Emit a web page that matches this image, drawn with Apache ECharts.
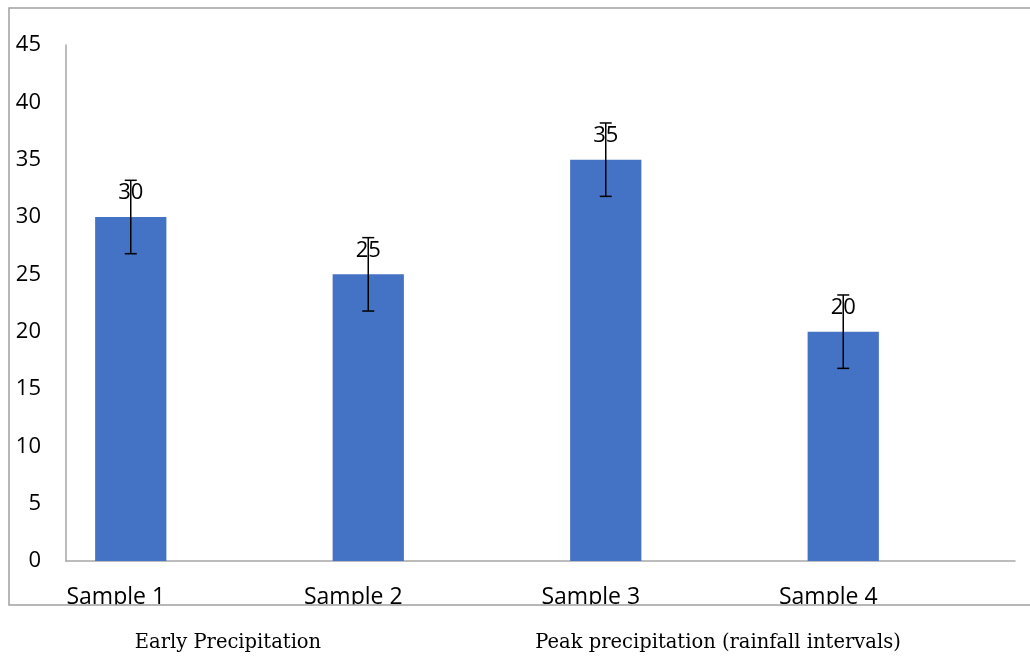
<!DOCTYPE html>
<html>
<head>
<meta charset="utf-8">
<script src="https://cdn.jsdelivr.net/npm/echarts@6/dist/echarts.min.js"></script>
<style>
  html, body { margin: 0; padding: 0; background: #fff; }
  #chart { width: 1030px; height: 657px; }
</style>
</head>
<body>
<div id="chart"></div>
<script>
const categories = ['Sample 1', 'Sample 2', 'Sample 3', 'Sample 4'];
const values = [30, 25, 35, 20];
const errors = [3.2, 3.2, 3.2, 3.2];
const yTicks = { min: 0, max: 45, interval: 5 };
const groupLabels = ['Early Precipitation', 'Peak precipitation (rainfall intervals)'];

const chart = echarts.init(document.getElementById('chart'), null, { renderer: 'canvas' });

const errorData = values.map((v, i) => [i, v - errors[i], v + errors[i]]);

const axisColor = '#a6a6a6';
const labelFont = { color: '#000', fontFamily: 'Open Sans', fontSize: 22 };

const option = {
  backgroundColor: '#ffffff',
  animation: false,
  grid: [
    { left: 66, right: 15, top: 45, bottom: 96, containLabel: false },
    { left: 12, right: 68, top: 45, bottom: 96, containLabel: false }
  ],
  xAxis: [
    {
      gridIndex: 0,
      type: 'value',
      min: 0, max: 1,
      axisLine: { show: true, lineStyle: { color: axisColor, width: 1.5 } },
      axisTick: { show: false },
      axisLabel: { show: false },
      splitLine: { show: false }
    },
    {
      gridIndex: 1,
      type: 'category',
      data: categories,
      axisLine: { show: false },
      axisTick: { show: false },
      axisLabel: Object.assign({}, labelFont, { interval: 0, margin: 25, fontSize: 23, padding: [0, 30, 0, 0] }),
      splitLine: { show: false }
    }
  ],
  yAxis: [
    {
      gridIndex: 0,
      type: 'value',
      min: yTicks.min, max: yTicks.max, interval: yTicks.interval,
      axisLine: { show: true, lineStyle: { color: axisColor, width: 1.5 } },
      axisTick: { show: false },
      axisLabel: Object.assign({}, labelFont, { margin: 25, padding: [4, 0, 0, 0] }),
      splitLine: { show: false }
    },
    {
      gridIndex: 1,
      type: 'value',
      min: yTicks.min, max: yTicks.max, interval: yTicks.interval,
      axisLine: { show: false },
      axisTick: { show: false },
      axisLabel: { show: false },
      splitLine: { show: false }
    }
  ],
  series: [
    {
      type: 'bar',
      xAxisIndex: 1,
      yAxisIndex: 1,
      data: values,
      barWidth: '30%',
      itemStyle: { color: '#4472C4' },
      label: Object.assign({ show: true, position: 'top', distance: 13 }, labelFont),
      z: 2
    },
    {
      type: 'custom',
      xAxisIndex: 1,
      yAxisIndex: 1,
      data: errorData,
      z: 5,
      renderItem: function (params, api) {
        const i = api.value(0);
        const lo = api.coord([i, api.value(1)]);
        const hi = api.coord([i, api.value(2)]);
        const x = lo[0];
        const half = 6;
        const style = { stroke: '#000', lineWidth: 1.5 };
        return {
          type: 'group',
          children: [
            { type: 'line', shape: { x1: x, y1: lo[1], x2: x, y2: hi[1] }, style: style },
            { type: 'line', shape: { x1: x - half, y1: lo[1], x2: x + half, y2: lo[1] }, style: style },
            { type: 'line', shape: { x1: x - half, y1: hi[1], x2: x + half, y2: hi[1] }, style: style }
          ]
        };
      }
    }
  ],
  graphic: [
    {
      type: 'rect',
      z: 100,
      shape: { x: 0, y: 605, width: 1030, height: 52 },
      style: { fill: '#ffffff' }
    },
    {
      type: 'rect',
      z: 101,
      shape: { x: 9, y: 8, width: 1040, height: 597 },
      style: { fill: 'transparent', stroke: '#a0a0a0', lineWidth: 1.5 }
    },
    {
      type: 'text',
      z: 102,
      x: 228,
      y: 643,
      style: {
        text: groupLabels[0],
        fill: '#000',
        font: '19.5px "DejaVu Serif"',
        align: 'center',
        verticalAlign: 'middle'
      }
    },
    {
      type: 'text',
      z: 102,
      x: 718,
      y: 643,
      style: {
        text: groupLabels[1],
        fill: '#000',
        font: '19.5px "DejaVu Serif"',
        align: 'center',
        verticalAlign: 'middle'
      }
    }
  ]
};

chart.setOption(option);
</script>
</body>
</html>
